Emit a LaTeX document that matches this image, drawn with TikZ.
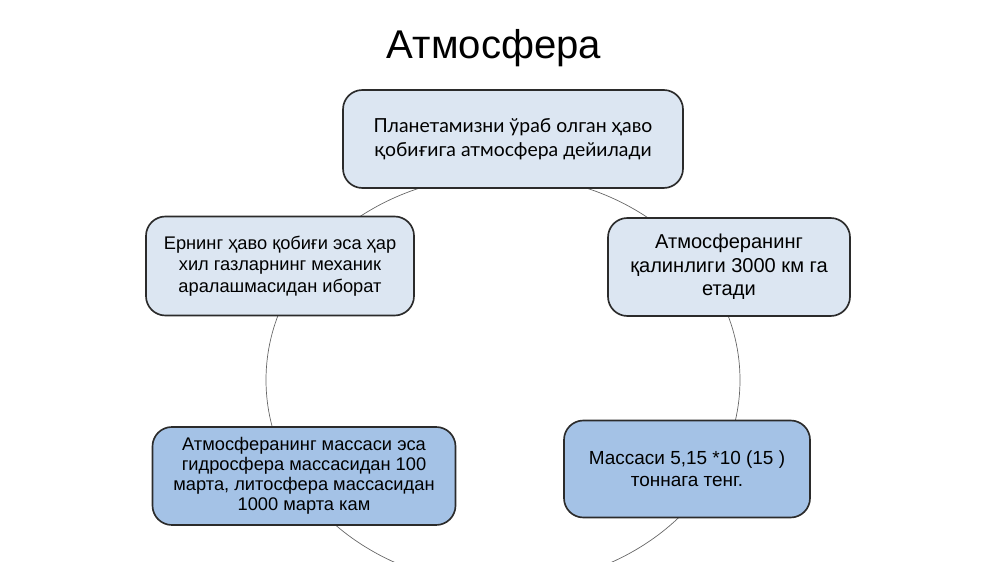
\documentclass[tikz,border=0pt]{standalone}
\usepackage{fontspec}
\setmainfont{Liberation Sans}
\newfontfamily\latofont{Lato}
\usetikzlibrary{positioning}
\definecolor{paleblue}{HTML}{DCE6F2}
\definecolor{midblue}{HTML}{A4C2E6}
\definecolor{boxline}{HTML}{2B2B2B}
\begin{document}
\begin{tikzpicture}[x=0.254mm,y=-0.254mm,
  box/.style={draw=boxline,line width=1.2pt,rounded corners=14pt,align=center,inner sep=0pt},
  light/.style={box,fill=paleblue},
  dark/.style={box,fill=midblue}]
\useasboundingbox (0,0) rectangle (1000,562);
\clip (0,0) rectangle (1000,562);

\draw[gray!80!black,line width=0.5pt] (503,380) ellipse [x radius=237,y radius=-205];

\node[font=\fontsize{29}{34}\selectfont] (title) at (494,48) {Атмосфера};
\node[light,minimum width=340*0.254mm,minimum height=98*0.254mm,
  font=\latofont\fontsize{14}{17.5}\selectfont] (top) at (513,139)
  {Планетамизни ўраб олган ҳаво\\ қобиғига атмосфера дейилади};
\node[light,minimum width=268*0.254mm,minimum height=99*0.254mm,
  font=\fontsize{13.2}{15.5}\selectfont] (left) at (280,266)
  {Ернинг ҳаво қобиғи эса ҳар\\ хил газларнинг механик\\ аралашмасидан иборат};
\node[light,minimum width=242*0.254mm,minimum height=98*0.254mm,
  font=\fontsize{14.5}{17}\selectfont] (right) at (729,267)
  {Атмосферанинг\\ қалинлиги 3000 км га\\ етади};
\node[dark,minimum width=303*0.254mm,minimum height=98*0.254mm,
  font=\fontsize{13.2}{14.4}\selectfont] (botleft) at (304,476)
  {Атмосферанинг массаси эса\\ гидросфера массасидан 100\\ марта, литосфера массасидан\\ 1000 марта кам};
\node[dark,minimum width=246*0.254mm,minimum height=97*0.254mm,
  font=\fontsize{13.7}{15.8}\selectfont] (botright) at (687,469)
  {Массаси 5,15 *10 (15 )\\ тоннага тенг.};
\end{tikzpicture}
\end{document}
